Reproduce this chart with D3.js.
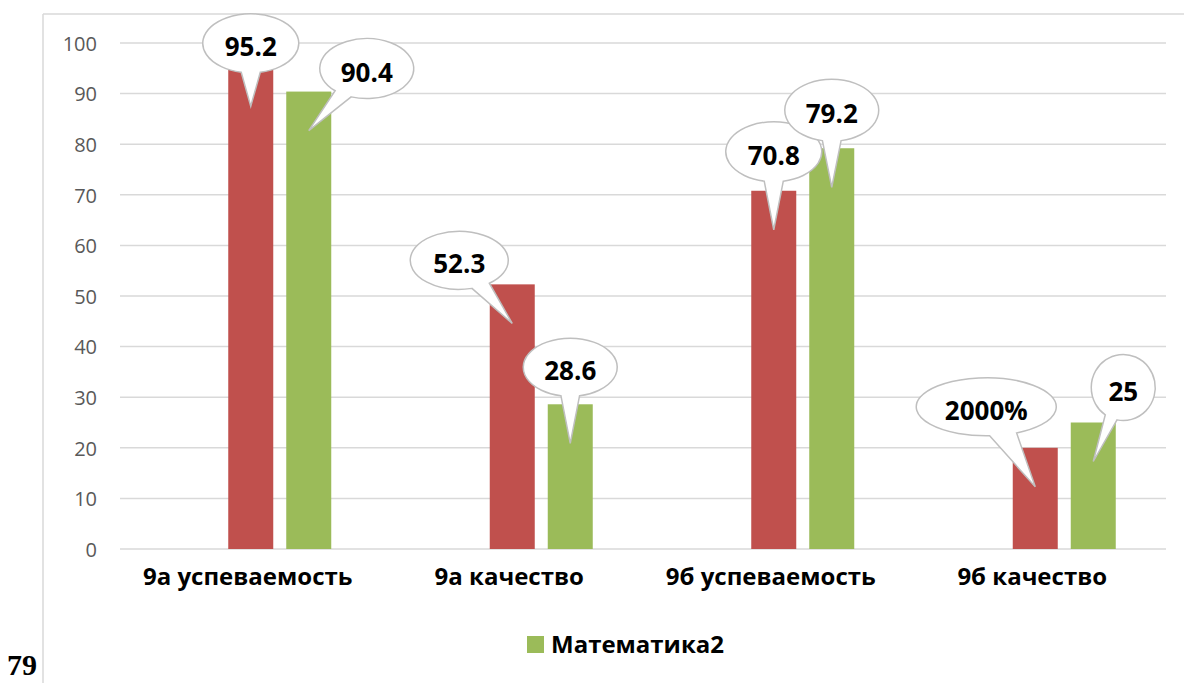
<!DOCTYPE html>
<html>
<head>
<meta charset="utf-8">
<script src="https://cdn.jsdelivr.net/npm/d3@7"></script>
<style>
  html, body { margin: 0; padding: 0; background: #fff; }
  svg { display: block; }
</style>
</head>
<body>
<script>
// ---- data ----
const categories = ["9а успеваемость", "9а качество", "9б успеваемость", "9б качество"];
// the cluster has three slots; the first series is empty in the source chart
const seriesSlots = ["Ряд1", "Математика1", "Математика2"];
const redValues = [95.2, 52.3, 70.8, 20];
const greenValues = [90.4, 28.6, 79.2, 25];
const redLabels = ["95.2", "52.3", "70.8", "2000%"];
const greenLabels = ["90.4", "28.6", "79.2", "25"];
const yTicks = [0, 10, 20, 30, 40, 50, 60, 70, 80, 90, 100];
const legendLabel = "Математика2";
const pageNumber = "79";

// ---- layout (callout placement relative to bar top: dx, dy, rx, ry) ----
const redCallouts = [[0, -24, 48, 29.5], [-53, -24, 49, 29], [0, -39, 48, 30], [-49, -41, 70, 29]];
const greenCallouts = [[58, -23, 47, 30], [0, -37, 47, 29], [0, -38, 47, 31], [30, -35, 32, 33]];

const W = 1184, H = 683;
const colors = { red: "#C0504D", green: "#9BBB59", grid: "#d9d9d9", frame: "#d9d9d9" };

const svg = d3.select("body").append("svg").attr("width", W).attr("height", H);

// frame (top and left edges visible)
svg.append("line").attr("x1", 43).attr("x2", W).attr("y1", 14).attr("y2", 14)
  .attr("stroke", colors.frame).attr("stroke-width", 1.5);
svg.append("line").attr("x1", 43).attr("x2", 43).attr("y1", 14).attr("y2", H)
  .attr("stroke", colors.frame).attr("stroke-width", 1.5);

const plot = { left: 120, right: 1166, top: 43, bottom: 549 };

const x = d3.scaleBand().domain(categories).range([plot.left, plot.right]).paddingInner(0).paddingOuter(0);
const y = d3.scaleLinear().domain([0, 100]).range([plot.bottom, plot.top]);
// sub-scale: group of 3 bars (45px wide, 13px gaps) centered in each band
const groupW = 161;
const xs = d3.scaleBand().domain(seriesSlots).range([0, groupW]).paddingInner(13 / 58).paddingOuter(0);
const groupOffset = (x.bandwidth() - groupW) / 2;

// gridlines
svg.append("g").selectAll("line").data(yTicks).join("line")
  .attr("x1", plot.left).attr("x2", plot.right)
  .attr("y1", d => y(d)).attr("y2", d => y(d))
  .attr("stroke", colors.grid).attr("stroke-width", 1.5);

// y axis labels
const yAxis = d3.axisLeft(y).tickValues(yTicks).tickSize(0).tickPadding(0);
const yg = svg.append("g").attr("transform", `translate(97,0)`).call(yAxis);
yg.select(".domain").remove();
yg.selectAll("text").attr("font-family", "'Open Sans', sans-serif").attr("font-size", 20)
  .attr("fill", "#595959").attr("dy", "0.36em");

// bars
const series = [
  { slot: seriesSlots[1], values: redValues, labels: redLabels, color: colors.red, callouts: redCallouts },
  { slot: seriesSlots[2], values: greenValues, labels: greenLabels, color: colors.green, callouts: greenCallouts }
];

const barX = (cat, slot) => x(cat) + groupOffset + xs(slot);

series.forEach(s => {
  svg.append("g").selectAll("rect").data(categories).join("rect")
    .attr("x", d => barX(d, s.slot))
    .attr("width", xs.bandwidth())
    .attr("y", (d, i) => y(s.values[i]))
    .attr("height", (d, i) => y(0) - y(s.values[i]))
    .attr("fill", s.color);
});

// x category labels
const xAxis = d3.axisBottom(x).tickSize(0).tickPadding(0);
const xg = svg.append("g").attr("transform", `translate(0,${plot.bottom})`).call(xAxis);
xg.select(".domain").remove();
xg.selectAll("text").attr("font-family", "'Open Sans', sans-serif").attr("font-size", 24)
  .attr("font-weight", 700).attr("fill", "#000").attr("dy", "1.52em").attr("dx", -3);

// callouts
function calloutPath(cx, cy, rx, ry, tx, ty) {
  const th = Math.atan2((ty - cy) / ry, (tx - cx) / rx);
  const d = 0.2;
  const p1 = [cx + rx * Math.cos(th + d), cy + ry * Math.sin(th + d)];
  const p2 = [cx + rx * Math.cos(th - d), cy + ry * Math.sin(th - d)];
  return `M${p1[0]},${p1[1]} A${rx},${ry} 0 1 1 ${p2[0]},${p2[1]} L${tx},${ty} Z`;
}

series.forEach(s => {
  const g = svg.append("g");
  categories.forEach((cat, i) => {
    const bx = barX(cat, s.slot) + xs.bandwidth() / 2;
    const by = y(s.values[i]);
    const [dx, dy, rx, ry] = s.callouts[i];
    const cx = bx + dx, cy = by + dy;
    const tx = bx, ty = by + 39;
    g.append("path").attr("d", calloutPath(cx, cy, rx, ry, tx, ty))
      .attr("fill", "#fff").attr("stroke", "#bfbfbf").attr("stroke-width", 1.5);
    g.append("text").attr("x", cx).attr("y", cy + 3)
      .attr("text-anchor", "middle").attr("dominant-baseline", "central")
      .attr("font-family", "'Open Sans', sans-serif").attr("font-weight", 700)
      .attr("font-size", 26).attr("fill", "#000").text(s.labels[i]);
  });
});

// legend
const lg = svg.append("g");
lg.append("rect").attr("x", 527).attr("y", 636).attr("width", 17).attr("height", 17).attr("fill", colors.green);
lg.append("text").attr("x", 551).attr("y", 653).attr("font-family", "'Open Sans', sans-serif")
  .attr("font-weight", 700).attr("font-size", 24).attr("fill", "#000").text(legendLabel);

// page number
svg.append("text").attr("x", 7).attr("y", 675).attr("font-family", "'Liberation Serif', serif")
  .attr("font-weight", 700).attr("font-size", 30).attr("fill", "#000").text(pageNumber);
</script>
</body>
</html>
